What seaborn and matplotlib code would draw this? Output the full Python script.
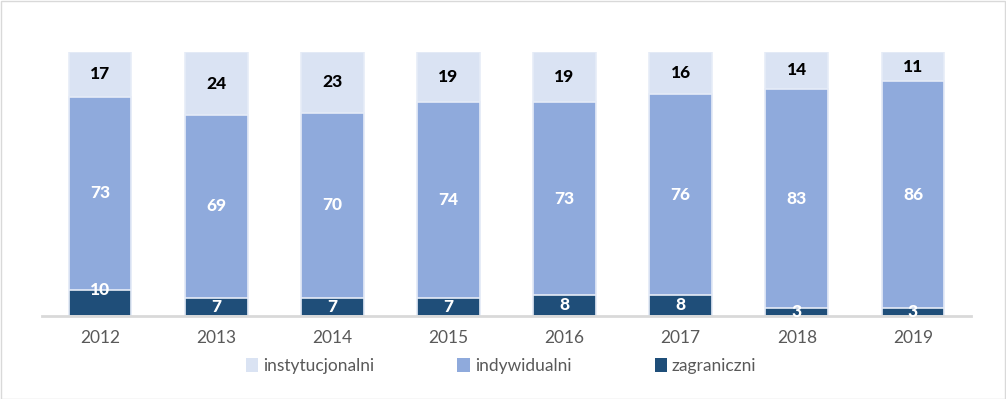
import matplotlib
matplotlib.use("Agg")
import matplotlib.pyplot as plt
import seaborn as sns
import pandas as pd
import numpy as np
from matplotlib.patches import Patch, Rectangle

years = ["2012", "2013", "2014", "2015", "2016", "2017", "2018", "2019"]
zagraniczni = [10, 7, 7, 7, 8, 8, 3, 3]
indywidualni = [73, 69, 70, 74, 73, 76, 83, 86]
instytucjonalni = [17, 24, 23, 19, 19, 16, 14, 11]

series_names = ["zagraniczni", "indywidualni", "instytucjonalni"]
colors = {"zagraniczni": "#1f4e79", "indywidualni": "#8faadc", "instytucjonalni": "#dae3f3"}
label_colors = {"zagraniczni": "white", "indywidualni": "white", "instytucjonalni": "black"}

sns.set_theme(style="white")
plt.rcParams["font.family"] = ["Lato", "DejaVu Sans"]

df = pd.DataFrame({"rok": years, "zagraniczni": zagraniczni,
                   "indywidualni": indywidualni, "instytucjonalni": instytucjonalni})
vals = [np.array(df[s], dtype=float) for s in series_names]
cum = np.cumsum(vals, axis=0)

fig = plt.figure(figsize=(10.06, 3.99), dpi=100)
ax = fig.add_axes([42/1006, 1-316/399, (971-42)/1006, (316-52)/399])

# draw cumulative totals, tallest first, to stack
for i in reversed(range(len(series_names))):
    name = series_names[i]
    d = pd.DataFrame({"rok": years, "v": cum[i]})
    sns.barplot(data=d, x="rok", y="v", color=colors[name], width=0.54,
                edgecolor="#e6ecf7", linewidth=1.2, saturation=1, ax=ax)

for i, name in enumerate(series_names):
    bottoms = cum[i] - vals[i]
    for j in range(len(years)):
        v = vals[i][j]
        ypos = bottoms[j] + v / 2
        if name == "zagraniczni" and v >= 10:
            ypos = bottoms[j] + v
        ax.text(j, ypos, f"{int(v)}",
                ha="center", va="center", fontsize=12.5, fontweight=900,
                color=label_colors[name])

ax.set_ylim(0, 100)
ax.set_xlim(-0.5, len(years) - 0.5)
ax.set_xlabel("")
ax.set_ylabel("")
ax.set_yticks([])
for s in ["top", "right", "left"]:
    ax.spines[s].set_visible(False)
ax.spines["bottom"].set_color("#d9d9d9")
ax.spines["bottom"].set_linewidth(2)
ax.tick_params(axis="x", length=0, pad=10, labelsize=12.5, labelcolor="#595959")

handles = [Patch(facecolor=colors[n], edgecolor="none", label=n)
           for n in ["instytucjonalni", "indywidualni", "zagraniczni"]]
leg = fig.legend(handles=handles, loc="center", bbox_to_anchor=(0.498, 0.083),
                 ncol=3, frameon=False, fontsize=12.5, handlelength=0.7, handleheight=0.9,
                 handletextpad=0.3, columnspacing=4.8)
for t in leg.get_texts():
    t.set_color("#595959")

fig.patches.append(Rectangle((0.5/1006, 0.5/399), 1-1.5/1006, 1-1.5/399,
                             transform=fig.transFigure, fill=False,
                             edgecolor="#d9d9d9", linewidth=1))

fig.savefig("out.png", dpi=100)
